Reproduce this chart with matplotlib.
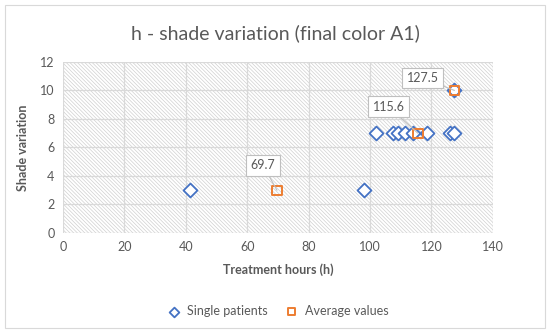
import matplotlib.pyplot as plt
from matplotlib.patches import Rectangle

plt.rcParams['font.family'] = ['Lato', 'DejaVu Sans']
plt.rcParams['hatch.linewidth'] = 0.5

# single patients
single_x = [41.5, 98, 102, 107.5, 109, 111.5, 114, 118.5, 126, 127.5, 127.5]
single_y = [3, 3, 7, 7, 7, 7, 7, 7, 7, 7, 10]
# averages
avg_x = [69.7, 115.6, 127.5]
avg_y = [3, 7, 10]
avg_labels = ['69.7', '115.6', '127.5']
label_offsets = [(-10, 18), (-21, 19), (-23, 9)]

grey = '#595959'
grid = '#d9d9d9'

fig = plt.figure(figsize=(5.5, 3.33), dpi=100)
fig.patches.append(Rectangle((0.009, 0.015), 0.982, 0.97, transform=fig.transFigure,
                             facecolor='none', edgecolor='#d9d9d9', lw=0.8))
ax = fig.add_axes([0.1145, 0.3003, 0.7815, 0.5137])

ax.add_patch(Rectangle((0, 0), 1, 1, transform=ax.transAxes, facecolor='white',
                       edgecolor='#d0d0d0', lw=0, hatch='\\' * 9, zorder=0))

ax.scatter(single_x, single_y, marker='D', s=50, facecolors='white',
           edgecolors='#4472C4', linewidths=1.3, zorder=3, label='Single patients')
ax.scatter(avg_x, avg_y, marker='s', s=46, facecolors='none',
           edgecolors='#ED7D31', linewidths=1.4, zorder=4, label='Average values')

for x, y, t, off in zip(avg_x, avg_y, avg_labels, label_offsets):
    ax.annotate(t, (x, y), xytext=off, textcoords='offset points', ha='center', va='center',
                fontsize=9, color=grey, zorder=5,
                bbox=dict(boxstyle='square,pad=0.35', fc='white', ec='#bfbfbf', lw=0.8),
                arrowprops=dict(arrowstyle='-', color='#bfbfbf', lw=0.8, shrinkA=0, shrinkB=0))

ax.set_xlim(0, 140)
ax.set_ylim(0, 12)
ax.set_xticks(range(0, 141, 20))
ax.set_yticks(range(0, 13, 2))
ax.grid(True, color=grid, lw=0.9, zorder=1)
ax.set_axisbelow(True)
for s in ax.spines.values():
    s.set_visible(False)
ax.tick_params(length=0, labelsize=9, labelcolor=grey, pad=6)

ax.set_xlabel('Treatment hours (h)', fontsize=9, fontweight='bold', color=grey, labelpad=7)
ax.set_ylabel('Shade variation', fontsize=9, fontweight='bold', color=grey, labelpad=8)
fig.text(0.5, 0.9, 'h - shade variation (final color A1)', ha='center', va='center',
         fontsize=14, color=grey)

fig.legend(loc='center', bbox_to_anchor=(0.5, 0.066), ncol=2, frameon=False,
           fontsize=9, labelcolor=grey, handletextpad=0.05, columnspacing=0.9,
           markerscale=0.7)

fig.savefig('out.png', dpi=100)
